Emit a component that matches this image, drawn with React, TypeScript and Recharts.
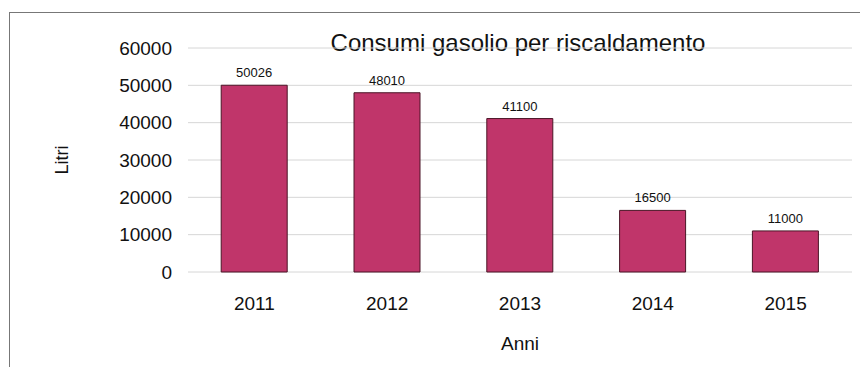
import { BarChart, Bar, XAxis, YAxis, CartesianGrid, LabelList } from 'recharts';

const years = ['2011', '2012', '2013', '2014', '2015'];
const litri = [50026, 48010, 41100, 16500, 11000];
const yTicks = [0, 10000, 20000, 30000, 40000, 50000, 60000];

const data = years.map((anno, i) => ({ anno, litri: litri[i] }));

const FONT = '"Liberation Sans", Arial, sans-serif';

function YAxisTitle({ viewBox }: any) {
  const cy = viewBox.y + viewBox.height / 2;
  return (
    <text
      x={62}
      y={cy}
      transform={`rotate(-90, 62, ${cy})`}
      textAnchor="middle"
      dominantBaseline="central"
      fontSize={18}
      fontFamily={FONT}
      fill="#111"
    >
      Litri
    </text>
  );
}

export default function App() {
  return (
    <div style={{ position: 'absolute', left: 0, top: 0, width: 860, height: 367, background: '#fff', overflow: 'hidden' }}>
      {/* frame around the chart */}
      <div
        style={{
          position: 'absolute',
          left: 9,
          top: 12,
          width: 860,
          height: 367,
          borderLeft: '1px solid #777',
          borderTop: '1px solid #777',
        }}
      />
      <div
        style={{
          position: 'absolute',
          left: 0,
          top: 29,
          width: 1036,
          textAlign: 'center',
          fontFamily: FONT,
          fontSize: 24,
          color: '#111',
          lineHeight: '28px',
        }}
      >
        Consumi gasolio per riscaldamento
      </div>
      <div style={{ position: 'absolute', left: 0, top: 0 }}>
        <BarChart
          width={860}
          height={367}
          data={data}
          margin={{ top: 48, right: 8, bottom: 15, left: 0 }}
          barCategoryGap="25%"
        >
          <CartesianGrid vertical={false} stroke="#d6d6d6" />
          <XAxis
            dataKey="anno"
            height={80}
            axisLine={false}
            tickLine={false}
            tickSize={0}
            tickMargin={25}
            tick={{ fontSize: 19, fontFamily: FONT, fill: '#111' }}
            label={{ value: 'Anni', position: 'insideBottom', offset: 2, fontSize: 19, fontFamily: FONT, fill: '#111' }}
          />
          <YAxis
            width={188}
            domain={[0, 60000]}
            ticks={yTicks}
            axisLine={false}
            tickLine={false}
            tickSize={0}
            tickMargin={16}
            tick={{ fontSize: 19, fontFamily: FONT, fill: '#111' }}
            label={<YAxisTitle />}
          />
          <Bar dataKey="litri" fill="#c0356a" stroke="#4a1526" strokeWidth={1} isAnimationActive={false}>
            <LabelList dataKey="litri" position="top" offset={8} fontSize={13} fontFamily={FONT} fill="#111" />
          </Bar>
        </BarChart>
      </div>
    </div>
  );
}
